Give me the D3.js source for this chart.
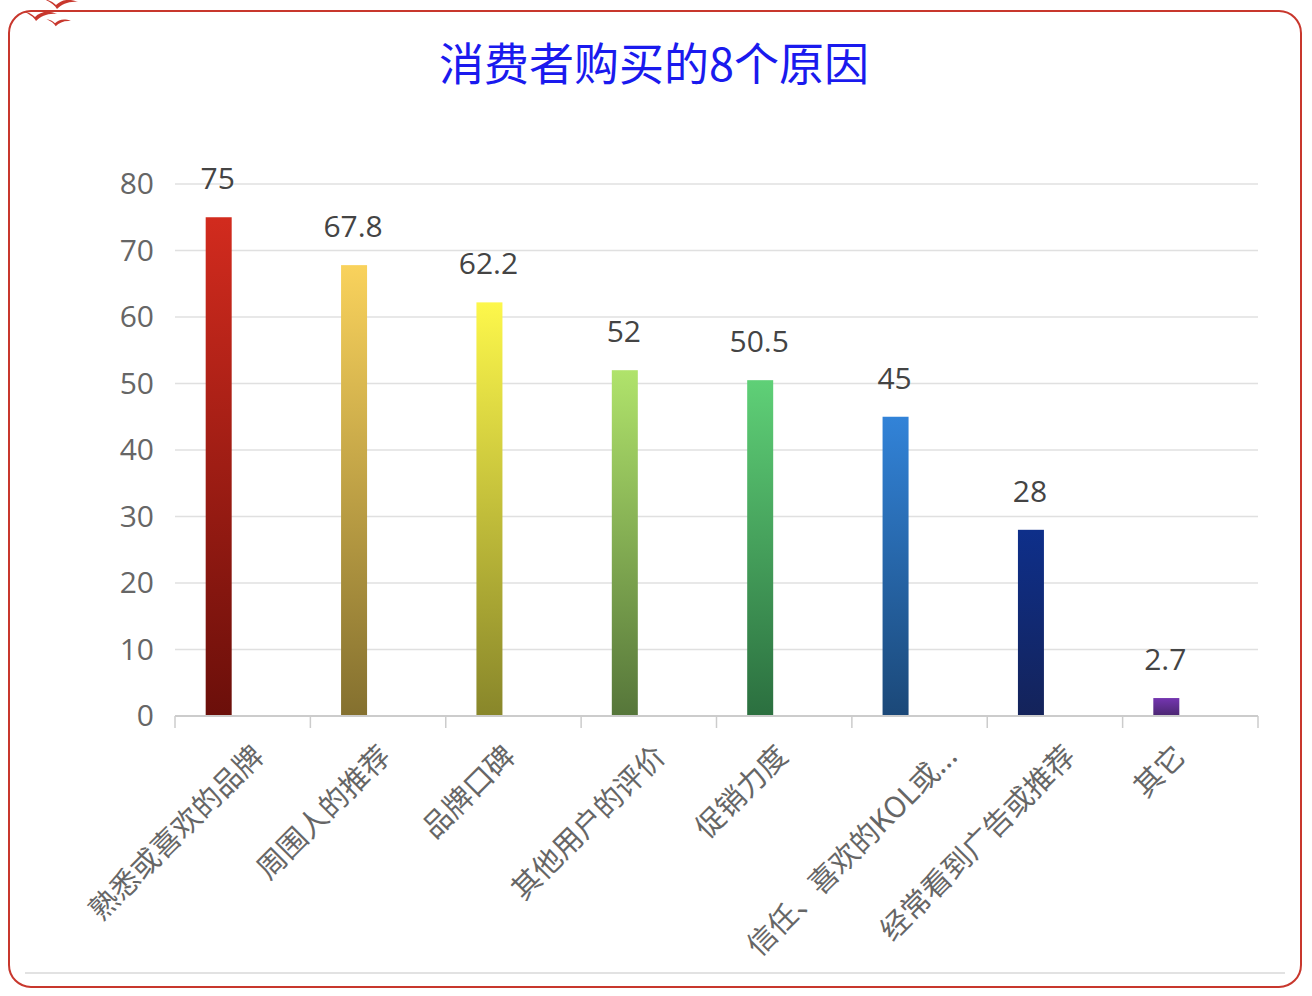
<!DOCTYPE html>
<html><head><meta charset="utf-8">
<script src="https://cdnjs.cloudflare.com/ajax/libs/d3/7.8.5/d3.min.js"></script>
<style>html,body{margin:0;padding:0;background:#fff;overflow:hidden}svg{display:block}text{font-family:"Noto Sans CJK SC","Noto Sans",sans-serif}.num{font-family:"Open Sans","Noto Sans",sans-serif}</style>
</head><body><svg id="c" width="1312" height="996"></svg>
<script>
const categories = ["熟悉或喜欢的品牌","周围人的推荐","品牌口碑","其他用户的评价","促销力度","信任、喜欢的KOL或...","经常看到广告或推荐","其它"];
const values = [75,67.8,62.2,52,50.5,45,28,2.7];
const valueLabels = ["75","67.8","62.2","52","50.5","45","28","2.7"];
const topColors = ["#d22b1e","#f9d25c","#fdf74b","#b0e36b","#5fd077","#3283d8","#0e2f8a","#7435b0"];
const bottomColors = ["#6b0f0a","#84702f","#88862a","#56763a","#2b6f3f","#1b4878","#14235a","#4a2670"];
const yTicks = [0,10,20,30,40,50,60,70,80];
const titleText = "消费者购买的8个原因";

const svg = d3.select("#c");
const m = {l:175,r:1258,t:184,b:716};
const x = d3.scaleBand().domain(categories).range([m.l,m.r]).paddingInner(0).paddingOuter(0);
const y = d3.scaleLinear().domain([0,80]).range([m.b,m.t]);
const barW = 26;
const barShift = -24;
const cx = d => x(d)+x.bandwidth()/2+barShift;
const labelNudge = {"信任、喜欢的KOL或...":9,"经常看到广告或推荐":-5,"品牌口碑":-2};

// frame
svg.append("rect").attr("x",9).attr("y",11).attr("width",1292).attr("height",976).attr("rx",22)
  .attr("fill","#fff").attr("stroke","#c8372d").attr("stroke-width",2);
svg.append("line").attr("x1",25).attr("x2",1285).attr("y1",973).attr("y2",973).attr("stroke","#e2e2e2").attr("stroke-width",2);

// birds
const bird = (bx,by,s)=>{
  svg.append("path").attr("transform",`translate(${bx},${by}) scale(${s})`)
   .attr("fill","#c8372d")
   .attr("d","M-12,-7 C-7,-6 -3,-4 0,-1 C5,-6 13,-8 22,-4 C13,-5 6,-2 1,3 C-1,-1 -6,-4 -12,-7 Z");
};
bird(56,6,1); bird(35,18,1); bird(55,24,.72);

// title
svg.append("text").attr("x",654).attr("y",81).attr("text-anchor","middle")
  .attr("font-size",45).attr("fill","#1a1aee").text(titleText);

// grid
svg.append("g").selectAll("line").data(yTicks.filter(d=>d>0)).join("line")
  .attr("x1",m.l).attr("x2",m.r).attr("y1",d=>y(d)).attr("y2",d=>y(d))
  .attr("stroke","#e0e0e0").attr("stroke-width",1.5);

// y axis
const ya = d3.axisLeft(y).tickValues(yTicks).tickSize(0).tickPadding(21);
const yg = svg.append("g").attr("transform",`translate(${m.l},0)`).call(ya);
yg.select(".domain").remove();
yg.selectAll("text").attr("class","num").attr("font-size",30).attr("fill","#666").attr("dy",".36em")
  .attr("transform","translate(0,-1)").style("font-family",'"Open Sans",sans-serif');

// gradients
const defs = svg.append("defs");
categories.forEach((c,i)=>{
  const g = defs.append("linearGradient").attr("id","g"+i).attr("x1",0).attr("x2",0).attr("y1",0).attr("y2",1);
  g.append("stop").attr("offset",0).attr("stop-color",topColors[i]);
  g.append("stop").attr("offset",1).attr("stop-color",bottomColors[i]);
});

// bars
svg.append("g").selectAll("rect").data(categories).join("rect")
  .attr("x",d=>cx(d)-barW/2)
  .attr("y",(d,i)=>y(values[i]))
  .attr("width",barW)
  .attr("height",(d,i)=>m.b-y(values[i]))
  .attr("fill",(d,i)=>`url(#g${i})`);

// value labels
svg.append("g").selectAll("text").data(categories).join("text")
  .attr("class","num")
  .attr("x",d=>cx(d)-1)
  .attr("y",(d,i)=>y(values[i])-28)
  .attr("text-anchor","middle").attr("font-size",30).attr("fill","#444")
  .text((d,i)=>valueLabels[i]);

// x axis
svg.append("line").attr("x1",m.l).attr("x2",m.r).attr("y1",m.b).attr("y2",m.b).attr("stroke","#ccc").attr("stroke-width",2);
svg.append("g").selectAll("line").data(categories.map(c=>x(c)).concat([m.r])).join("line")
  .attr("x1",d=>d).attr("x2",d=>d).attr("y1",m.b).attr("y2",m.b+12).attr("stroke","#ccc").attr("stroke-width",1.5);
svg.append("g").selectAll("text").data(categories).join("text")
  .attr("text-anchor","end")
  .attr("font-size",29).attr("fill","#666")
  .text(d=>d)
  .attr("transform",function(d){
    const dx = -54 + 0.15*this.getComputedTextLength() + (labelNudge[d]||0);
    return `translate(${x(d)+x.bandwidth()/2+42+dx},${m.b+42}) rotate(-45)`;
  });
</script></body></html>
